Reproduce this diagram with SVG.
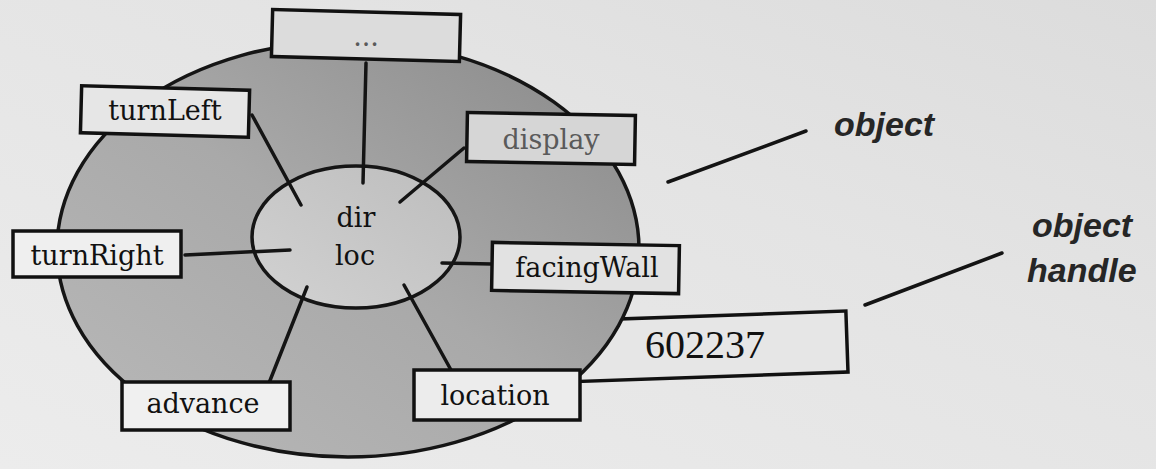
<svg xmlns="http://www.w3.org/2000/svg" width="1156" height="469" viewBox="0 0 1156 469">
<defs>
<linearGradient id="paper" x1="0" y1="1" x2="1" y2="0">
<stop offset="0" stop-color="#ececec"/>
<stop offset="0.6" stop-color="#e4e4e4"/>
<stop offset="1" stop-color="#dcdcdc"/>
</linearGradient>
<linearGradient id="outerFill" x1="0" y1="1" x2="1" y2="0">
<stop offset="0" stop-color="#b9b9b9"/>
<stop offset="0.5" stop-color="#a9a9a9"/>
<stop offset="1" stop-color="#888888"/>
</linearGradient>
<linearGradient id="innerFill" x1="0" y1="1" x2="1" y2="0">
<stop offset="0" stop-color="#d2d2d2"/>
<stop offset="1" stop-color="#bdbdbd"/>
</linearGradient>
<style>
.box{stroke:#111;stroke-width:3.5;}
.lbl{font-family:"DejaVu Serif","Liberation Serif",serif;font-size:27px;fill:#111;text-anchor:middle;}
.faint{fill:#5a5a5a;}
.conn{stroke:#141414;stroke-width:3.5;fill:none;stroke-linecap:round;}
.ann{font-family:"Liberation Sans",Arial,sans-serif;font-size:34px;font-weight:bold;font-style:italic;fill:#262626;}
</style>
</defs>
<rect width="1156" height="469" fill="url(#paper)"/>

<g id="handle-box">
<rect class="box" x="562" y="316" width="285" height="61" fill="#e6e6e6" transform="rotate(-2 705 346)"/>
<text x="705" y="358" style="font-family:'Liberation Serif',serif;font-size:40px;fill:#111;text-anchor:middle">602237</text>
</g>

<g id="object">
<ellipse cx="348" cy="249" rx="291" ry="208" fill="url(#outerFill)" stroke="#151515" stroke-width="3.5"/>
</g>

<g id="state">
<ellipse cx="356" cy="237" rx="104" ry="71" fill="url(#innerFill)" stroke="#151515" stroke-width="3.5"/>
<text class="lbl" x="356" y="227">dir</text>
<text class="lbl" x="355" y="265">loc</text>
</g>

<g id="connectors">
<line class="conn" x1="366" y1="63" x2="363" y2="183"/>
<line class="conn" x1="252" y1="115" x2="301" y2="205"/>
<line class="conn" x1="464" y1="148" x2="400" y2="202"/>
<line class="conn" x1="185" y1="255" x2="290" y2="250"/>
<line class="conn" x1="442" y1="263" x2="492" y2="264"/>
<line class="conn" x1="269" y1="383" x2="307" y2="287"/>
<line class="conn" x1="451" y1="370" x2="404" y2="285"/>
<line class="conn" x1="668" y1="182" x2="806" y2="131"/>
<line class="conn" x1="865" y1="305" x2="1002" y2="253"/>
</g>

<g id="dots">
<rect class="box" x="272" y="12" width="188" height="47" fill="#dcdcdc" transform="rotate(1.5 366 36)"/>
<text class="lbl faint" x="366" y="46">...</text>
</g>

<g id="turnLeft">
<rect class="box" x="81" y="88" width="168" height="47" fill="#e6e6e6" transform="rotate(1.5 165 112)"/>
<text class="lbl" x="165" y="120">turnLeft</text>
</g>

<g id="display">
<rect class="box" x="467" y="114" width="168" height="49" fill="#d6d6d6" transform="rotate(1 551 138)"/>
<text class="lbl faint" x="551" y="149">display</text>
</g>

<g id="turnRight">
<rect class="box" x="13" y="231" width="168" height="46" fill="#efefef"/>
<text class="lbl" x="97" y="265">turnRight</text>
</g>

<g id="facingWall">
<rect class="box" x="492" y="244" width="187" height="48" fill="#e2e2e2" transform="rotate(1 585 268)"/>
<text class="lbl" x="587" y="277">facingWall</text>
</g>

<g id="advance">
<rect class="box" x="122" y="382" width="168" height="48" fill="#f0f0f0"/>
<text class="lbl" x="203" y="413">advance</text>
</g>

<g id="location">
<rect class="box" x="414" y="370" width="166" height="50" fill="#ececec"/>
<text class="lbl" x="495" y="405">location</text>
</g>

<g id="labels">
<text class="ann" x="834" y="136">object</text>
<text class="ann" x="1032" y="237">object</text>
<text class="ann" x="1027" y="282">handle</text>
</g>
</svg>
